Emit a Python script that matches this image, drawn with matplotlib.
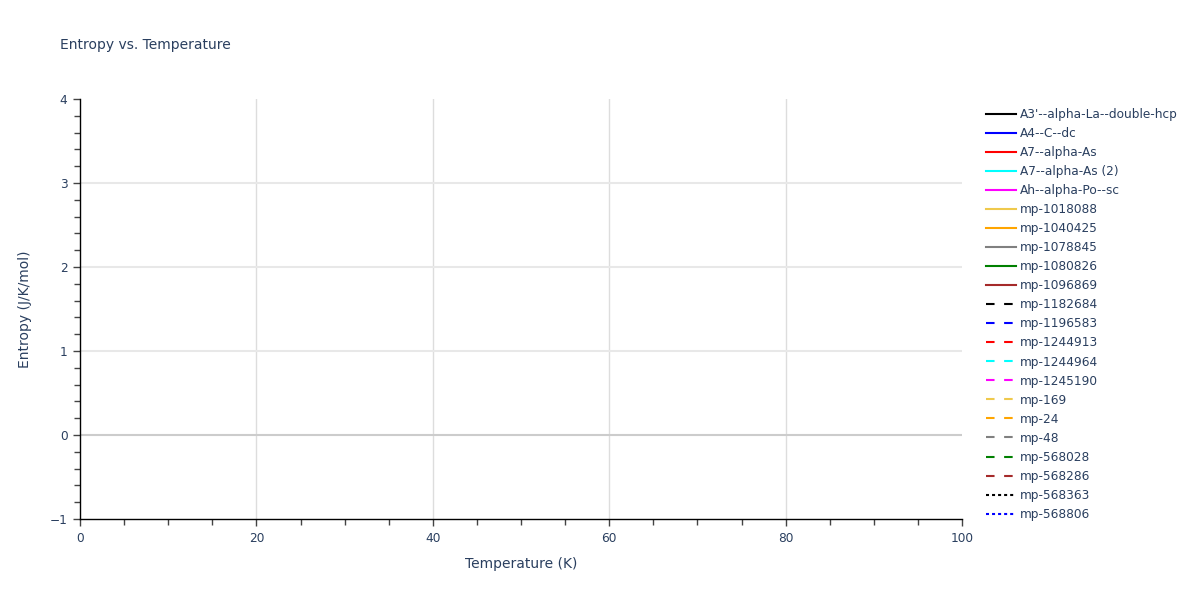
import matplotlib
matplotlib.use("Agg")
import matplotlib.pyplot as plt
from matplotlib.ticker import MultipleLocator

# ---- data (the reference shows no visible data points in the 0-100 K window) ----
series_names = [
    "A3'--alpha-La--double-hcp", "A4--C--dc", "A7--alpha-As", "A7--alpha-As (2)",
    "Ah--alpha-Po--sc", "mp-1018088", "mp-1040425", "mp-1078845", "mp-1080826",
    "mp-1096869", "mp-1182684", "mp-1196583", "mp-1244913", "mp-1244964",
    "mp-1245190", "mp-169", "mp-24", "mp-48", "mp-568028", "mp-568286",
    "mp-568363", "mp-568806",
]
temperature = []                          # K
entropy = {name: [] for name in series_names}  # J/K/mol
x_ticks = [0, 20, 40, 60, 80, 100]
y_ticks = [-1, 0, 1, 2, 3, 4]

# ---- styles ----
base_colors = ["black", "blue", "red", "cyan", "magenta", "#EFC94C",
               "orange", "gray", "green", "brown"]
colors = base_colors + base_colors + base_colors[:2]
dash = (0, (4.1, 4.6))
dot = (0, (1.45, 1.45))
styles = ["-"] * 10 + [dash] * 10 + [dot] * 2

text_color = "#2a3f5f"
plt.rcParams["font.family"] = ["DejaVu Sans"]

fig = plt.figure(figsize=(12, 6), dpi=100)
ax = fig.add_axes([80 / 1200, 1 - 519 / 600, (962 - 80) / 1200, (519 - 99) / 600])

handles = []
for name, c, ls in zip(series_names, colors, styles):
    (h,) = ax.plot(temperature, entropy[name], color=c, linestyle=ls, lw=1.5, label=name)
    h.set_dash_capstyle("butt")
    handles.append(h)

ax.set_xlim(0, 100)
ax.set_ylim(-1, 4)
ax.set_xticks(x_ticks)
ax.set_yticks(y_ticks)
ax.xaxis.set_minor_locator(MultipleLocator(5))
ax.yaxis.set_minor_locator(MultipleLocator(0.2))

for s in ["top", "right"]:
    ax.spines[s].set_visible(False)
for s in ["left", "bottom"]:
    ax.spines[s].set_color("black")
    ax.spines[s].set_linewidth(1)

ax.tick_params(which="both", direction="out", length=4, width=1, color="#444444",
               labelsize=8.7, labelcolor=text_color, pad=4)
ax.tick_params(which="major", length=5)

# grid
ax.set_axisbelow(True)
for xv in [20, 40, 60, 80]:
    ax.axvline(xv, color="#dddddd", lw=1, zorder=0)
for yv in [1, 2, 3]:
    ax.axhline(yv, color="#e8e8e8", lw=1.5, zorder=0)
ax.axhline(0, color="#cccccc", lw=1.5, zorder=0)

ax.set_xlabel("Temperature (K)", fontsize=10, color=text_color, labelpad=9)
ax.set_ylabel("Entropy (J/K/mol)", fontsize=10, color=text_color, labelpad=13)

fig.text(60 / 1200, 1 - 45 / 600, "Entropy vs. Temperature", fontsize=10,
         color=text_color, va="center", ha="left")

leg = fig.legend(handles=handles, loc="upper left", bbox_to_anchor=(986 / 1200, 1 - 108 / 600),
                 frameon=False, fontsize=8.7, handlelength=2.48, handletextpad=0.33,
                 labelspacing=0.50, borderaxespad=0, borderpad=0)
for t in leg.get_texts():
    t.set_color(text_color)

fig.savefig("out.png", dpi=100)
